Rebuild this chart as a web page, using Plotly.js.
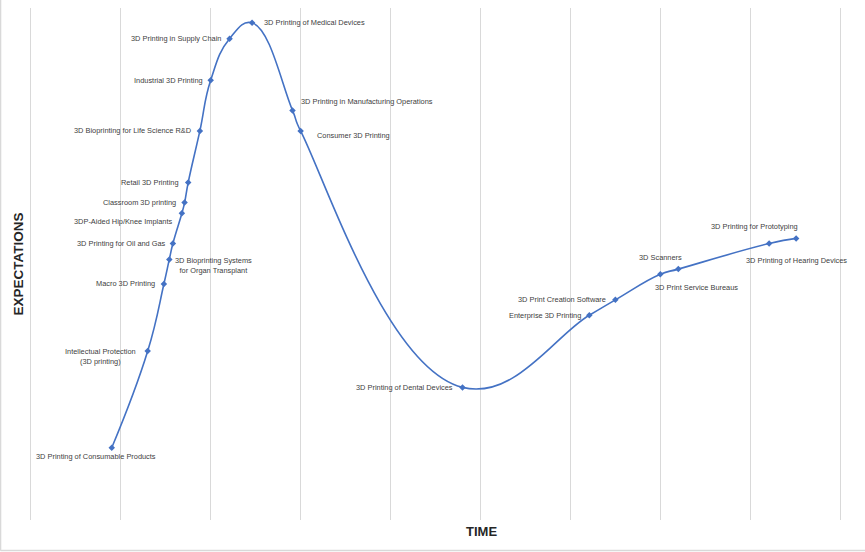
<!DOCTYPE html>
<html>
<head>
<meta charset="utf-8">
<script src="https://cdn.plot.ly/plotly-3.0.1.min.js"></script>
<style>html,body{margin:0;padding:0;background:#fff;}#chart{width:865px;height:552px;}</style>
</head>
<body>
<div id="chart"></div>
<script>
// ---- data ----
const labels = [
  "3D Printing of Consumable Products",
  "Intellectual Protection<br>(3D printing)",
  "Macro 3D Printing",
  "3D Bioprinting Systems<br>for Organ Transplant",
  "3D Printing for Oil and Gas",
  "3DP-Aided Hip/Knee Implants",
  "Classroom 3D printing",
  "Retail 3D Printing",
  "3D Bioprinting for Life Science R&D",
  "Industrial 3D Printing",
  "3D Printing in Supply Chain",
  "3D Printing of Medical Devices",
  "3D Printing in Manufacturing Operations",
  "Consumer 3D Printing",
  "3D Printing of Dental Devices",
  "Enterprise 3D Printing",
  "3D Print Creation Software",
  "3D Scanners",
  "3D Print Service Bureaus",
  "3D Printing of Hearing Devices",
  "3D Printing for Prototyping"
];
const timeX = [0.90, 1.30, 1.48, 1.54, 1.58, 1.68, 1.71, 1.75, 1.88, 2.00, 2.21, 2.46, 2.91, 3.00, 4.80, 6.21, 6.50, 7.00, 7.20, 8.21, 8.51];
const expectY = [1.41, 3.30, 4.61, 5.09, 5.40, 5.99, 6.20, 6.59, 7.60, 8.59, 9.40, 9.71, 8.00, 7.60, 2.59, 4.00, 4.30, 4.80, 4.90, 5.40, 5.50];
const xTitle = "TIME";
const yTitle = "EXPECTATIONS";

// ---- label placement (style only): [xanchor, xshift, yshift] ----
const labelPlace = [
  ["center", -16, -9],
  ["right", -10, -5],
  ["right", -7, 0],
  ["left", 4, -6],
  ["right", -5, 0],
  ["right", -8, -8],
  ["right", -7, 0],
  ["right", -7, 0],
  ["right", -7, 0],
  ["right", -6, 0],
  ["right", -7, 0],
  ["left", 10, 0],
  ["left", 6, 9],
  ["left", 14, -5],
  ["right", -7, 0],
  ["right", -6, 0],
  ["right", -7, 0],
  ["center", 0, 17],
  ["center", 18, -18],
  ["center", 27, -17],
  ["center", -42, 12]
];

const labelFont = {family: "Liberation Sans, Arial, sans-serif", size: 7.4, color: "#404040"};

const annotations = labels.map((t, i) => ({
  x: timeX[i], y: expectY[i], xref: "x", yref: "y",
  text: t, showarrow: false,
  xanchor: labelPlace[i][0], yanchor: "middle",
  xshift: labelPlace[i][1], yshift: labelPlace[i][2],
  align: "center", font: labelFont
}));

annotations.push({
  xref: "paper", yref: "paper", x: 0.556, y: -0.0215, yanchor: "middle", xanchor: "center",
  text: "<b>" + xTitle + "</b>", showarrow: false,
  font: {family: "Liberation Sans, Arial, sans-serif", size: 13, color: "#262626"}
});
annotations.push({
  xref: "paper", yref: "paper", x: -0.013, y: 0.5, xanchor: "center", yanchor: "middle",
  textangle: -90,
  text: "<b>" + yTitle + "</b>", showarrow: false,
  font: {family: "Liberation Sans, Arial, sans-serif", size: 13.5, color: "#262626"}
});

const trace = {
  x: timeX, y: expectY, type: "scatter", mode: "lines+markers",
  line: {shape: "spline", smoothing: 1.3, color: "#4472C4", width: 1.6},
  marker: {symbol: "diamond", size: 5, color: "#4472C4"},
  hoverinfo: "text", text: labels
};

const layout = {
  width: 865, height: 552,
  margin: {l: 29.2, r: 23.2, t: 8, b: 32},
  paper_bgcolor: "#ffffff", plot_bgcolor: "#ffffff",
  showlegend: false,
  xaxis: {range: [-0.02, 9.02], dtick: 1, tick0: 0, showgrid: true, gridcolor: "#d9d9d9", gridwidth: 1,
          zeroline: false, showline: false, showticklabels: false, ticks: ""},
  yaxis: {range: [0, 10], showgrid: false, zeroline: false, showline: false, showticklabels: false, ticks: ""},
  annotations: annotations,
  shapes: [
    {type: "line", xref: "paper", yref: "paper", x0: -0.035, x1: -0.035, y0: -0.06, y1: 1.016, line: {color: "#d9d9d9", width: 1.5}},
    {type: "line", xref: "paper", yref: "paper", x0: -0.035, x1: 1.03, y0: -0.0595, y1: -0.0595, line: {color: "#d9d9d9", width: 1.5}}
  ]
};

Plotly.newPlot("chart", [trace], layout, {displayModeBar: false, staticPlot: true});
</script>
</body>
</html>
